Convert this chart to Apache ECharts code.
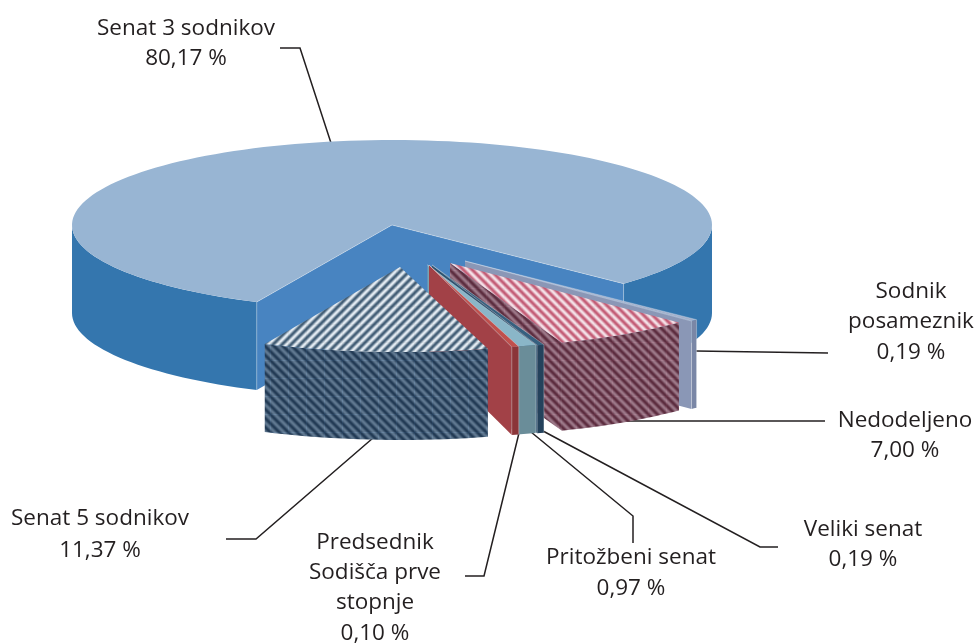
<!DOCTYPE html>
<html lang="sl">
<head>
  <meta charset="UTF-8">
  <title>Senati</title>
  <script src="https://cdn.jsdelivr.net/npm/echarts@6/dist/echarts.min.js"></script>
  <style>
    html,body{margin:0;padding:0;background:#fff;}
    #main{width:978px;height:644px;}
  </style>
</head>
<body>
<div id="main"></div>
<script>
  // podatki
  var names = ['Senat 3 sodnikov', 'Sodnik posameznik', 'Nedodeljeno', 'Veliki senat', 'Pritožbeni senat', 'Predsednik Sodišča prve stopnje', 'Senat 5 sodnikov'];
  var values = [80.17, 0.19, 7.00, 0.19, 0.97, 0.10, 11.37];
  var valueLabels = ['80,17 %', '0,19 %', '7,00 %', '0,19 %', '0,97 %', '0,10 %', '11,37 %'];

  // postavitev (ne podatki)
  var cx = 392, cy = 225, rx = 320, ry = 85, depth = 88;
  var startDeg = 115;   // clockwise from east, screen coords
  var minSweep = 1.3;   // very thin slices stay visible
  var offsets = [[0, 0], [73, 36], [58, 38], [40, 40], [35.5, 40], [37, 40], [8, 42]];
  var labelLines = [
    ['Senat 3 sodnikov', '80,17 %'],
    ['Sodnik', 'posameznik', '0,19 %'],
    ['Nedodeljeno', '7,00 %'],
    ['Veliki senat', '0,19 %'],
    ['Pritožbeni senat', '0,97 %'],
    ['Predsednik', 'Sodišča prve', 'stopnje', '0,10 %'],
    ['Senat 5 sodnikov', '11,37 %']
  ];
  var labelPos = [[186, 28.5], [911, 291.5], [905, 421], [863, 529.5], [631, 557.5], [375, 542.5], [100, 518.5]];
  var lineHeights = [30, 30.5, 30, 30, 31, 30.2, 32];
  var leaders = [
    [[280, 48], [300, 48], [331, 143]],
    [[828, 353], [696, 351]],
    [[825, 421], [626, 421]],
    [[778, 547], [760, 547], [543, 431]],
    [[633, 543], [633, 516], [531, 432]],
    [[465, 576], [484, 576], [519, 433]],
    [[226, 539], [256, 539], [373, 438]]
  ];

  function tile(c1, c2, dir, grid) {
    var s = 18, period = 9;
    var cv = document.createElement('canvas');
    cv.width = s; cv.height = s;
    var ctx = cv.getContext('2d');
    var img = ctx.createImageData(s, s);
    for (var y = 0; y < s; y++) {
      for (var x = 0; x < s; x++) {
        var t = (dir > 0 ? x + y : x - y + s) % period;
        var k = 0.5 + 0.5 * Math.cos(t / period * 2 * Math.PI);
        var g = (x === 0 || y === 0) ? grid : 1;
        var i = (y * s + x) * 4;
        for (var n = 0; n < 3; n++) img.data[i + n] = (c1[n] * k + c2[n] * (1 - k)) * g;
        img.data[i + 3] = 255;
      }
    }
    ctx.putImageData(img, 0, 0);
    return {image: cv, repeat: 'repeat'};
  }

  var blueTop = tile([228, 236, 243], [66, 94, 118], 1, 0.96);
  var blueSide = tile([34, 58, 84], [96, 120, 144], -1, 1.12);
  var redTop = tile([244, 226, 232], [196, 92, 118], -1, 0.98);
  var redSide = tile([92, 44, 62], [156, 120, 136], -1, 1.08);

  var fills = [
    {top: '#98b5d3', wall: '#4884c1', arc: '#3476ae'},
    {top: '#a3b0cb', wall: '#8a97b6', arc: '#7a87a6'},
    {top: redTop, wall: redSide, arc: redSide},
    {top: '#36607f', wall: '#2c526f', arc: '#24425c'},
    {top: '#8ab6c8', wall: '#7aa3b4', arc: '#6a8d99'},
    {top: '#c0504d', wall: '#a24147', arc: '#8b3539'},
    {top: blueTop, wall: blueSide, arc: blueSide}
  ];

  var total = values.reduce(function (a, b) { return a + b; }, 0);
  var ranges = [];
  values.reduce(function (a, v) {
    var b = a + v / total * 360;
    ranges.push([a, Math.max(b, a + minSweep)]);
    return b;
  }, startDeg);

  function pt(deg, ox, oy, dz) {
    var r = deg * Math.PI / 180;
    return [cx + ox + rx * Math.cos(r), cy + oy + ry * Math.sin(r) + dz];
  }

  function arcPts(a, b, ox, oy, dz) {
    var out = [], n = Math.max(2, Math.ceil((b - a) / 2));
    for (var i = 0; i <= n; i++) out.push(pt(a + (b - a) * i / n, ox, oy, dz));
    return out;
  }

  function poly(points, fill, z) {
    return {type: 'polygon', shape: {points: points}, style: {fill: fill}, z2: z, silent: true};
  }

  function radialWall(deg, ox, oy, fill, z) {
    var c = [cx + ox, cy + oy];
    var e = pt(deg, ox, oy, 0);
    return poly([c, e, [e[0], e[1] + depth], [c[0], c[1] + depth]], fill, z);
  }

  function edge(points, z) {
    return {type: 'polyline', shape: {points: points}, style: {stroke: 'rgba(255,255,255,0.3)', lineWidth: 1, fill: 'none'}, z2: z, silent: true};
  }

  function renderItem(params, api) {
    var i = params.dataIndex;
    var a = ranges[i][0], b = ranges[i][1];
    var ox = offsets[i][0], oy = offsets[i][1];
    var f = fills[i];
    var base = i * 10;
    var kids = [];

    // radial faces that look at the viewer
    if (Math.cos(b * Math.PI / 180) > 0) kids.push(radialWall(b, ox, oy, f.wall, base + 1));
    if (Math.cos(a * Math.PI / 180) < 0) kids.push(radialWall(a, ox, oy, f.wall, base + 1));

    // outer rim, front half only (sin > 0)
    [[0, 180], [360, 540]].forEach(function (w) {
      var s = Math.max(a, w[0]), e = Math.min(b, w[1]);
      if (e > s) {
        var up = arcPts(s, e, ox, oy, 0);
        var down = arcPts(s, e, ox, oy, depth).reverse();
        kids.push(poly(up.concat(down), f.arc, base + 2));
      }
    });

    var top = [[cx + ox, cy + oy]].concat(arcPts(a, b, ox, oy, 0));
    kids.push(poly(top, f.top, base + 3));

    // light corners of the plain slices
    if (typeof f.top === 'string') {
      [a, b].forEach(function (d) {
        if (Math.sin(d * Math.PI / 180) > 0) {
          var p = pt(d, ox, oy, 0);
          kids.push(edge([[cx + ox, cy + oy], p, [p[0], p[1] + depth]], base + 4));
        }
      });
    }

    return {type: 'group', children: kids};
  }

  function renderLabel(params) {
    var i = params.dataIndex;
    var kids = [{
      type: 'polyline',
      shape: {points: leaders[i]},
      style: {stroke: '#231f20', lineWidth: 1.5, fill: 'none'},
      silent: true
    }];
    labelLines[i].forEach(function (txt, k) {
      kids.push({
        type: 'text',
        style: {
          text: txt,
          x: labelPos[i][0],
          y: labelPos[i][1] + k * lineHeights[i],
          align: 'center',
          verticalAlign: 'middle',
          fill: '#231f20',
          font: '22.5px "Open Sans"'
        },
        silent: true
      });
    });
    return {type: 'group', children: kids};
  }

  var myChart = echarts.init(document.getElementById('main'), null, {renderer: 'canvas'});
  var option = {
    animation: false,
    backgroundColor: '#ffffff',
    series: [
      {
        type: 'custom',
        coordinateSystem: 'none',
        name: 'oznake',
        renderItem: renderLabel,
        data: valueLabels,
        z: 1
      },
      {
        type: 'custom',
        coordinateSystem: 'none',
        name: 'deleži',
        renderItem: renderItem,
        data: values.map(function (v, i) { return {name: names[i], value: [v]}; }),
        z: 2
      }
    ]
  };
  myChart.setOption(option);
</script>
</body>
</html>
